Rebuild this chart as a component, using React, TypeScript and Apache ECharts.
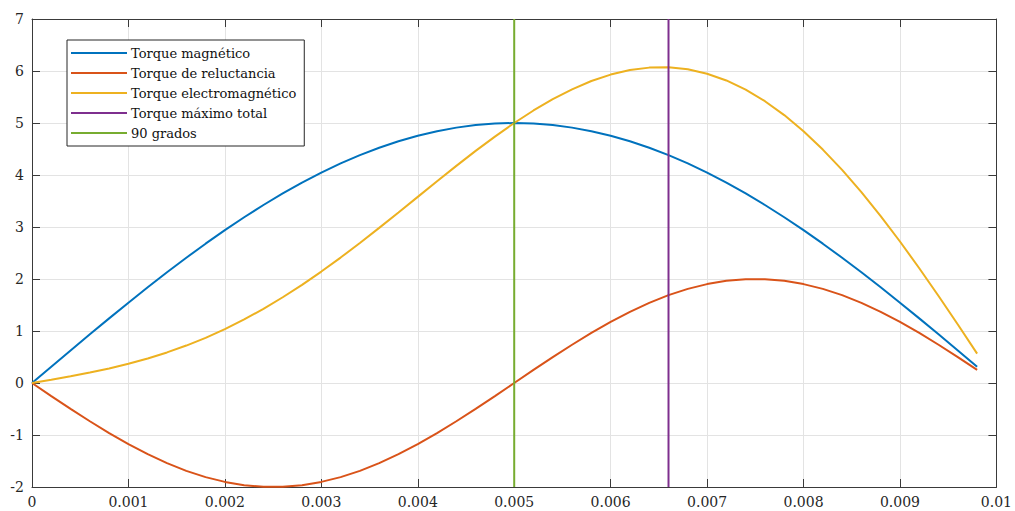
import React, { useEffect, useRef } from "react";
import * as echarts from "echarts";

const time = [
  0, 0.0002, 0.0004, 0.0006, 0.0008, 0.001, 0.0012, 0.0014, 0.0016, 0.0018,
  0.002, 0.0022, 0.0024, 0.0026, 0.0028, 0.003, 0.0032, 0.0034, 0.0036, 0.0038,
  0.004, 0.0042, 0.0044, 0.0046, 0.0048, 0.005, 0.0052, 0.0054, 0.0056, 0.0058,
  0.006, 0.0062, 0.0064, 0.0066, 0.0068, 0.007, 0.0072, 0.0074, 0.0076, 0.0078,
  0.008, 0.0082, 0.0084, 0.0086, 0.0088, 0.009, 0.0092, 0.0094, 0.0096, 0.0098,
];

const torqueMagnetico = [
  0, 0.314, 0.627, 0.937, 1.243, 1.545, 1.841, 2.129, 2.409, 2.679,
  2.939, 3.187, 3.423, 3.645, 3.853, 4.045, 4.222, 4.382, 4.524, 4.649,
  4.755, 4.843, 4.911, 4.961, 4.99, 5.0, 4.99, 4.961, 4.911, 4.843,
  4.755, 4.649, 4.524, 4.382, 4.222, 4.045, 3.853, 3.645, 3.423, 3.187,
  2.939, 2.679, 2.409, 2.129, 1.841, 1.545, 1.243, 0.937, 0.627, 0.314,
];

const torqueReluctancia = [
  0, -0.251, -0.497, -0.736, -0.964, -1.176, -1.369, -1.541, -1.689, -1.81,
  -1.902, -1.965, -1.996, -1.996, -1.965, -1.902, -1.81, -1.689, -1.541, -1.369,
  -1.176, -0.964, -0.736, -0.497, -0.251, 0, 0.251, 0.497, 0.736, 0.964,
  1.176, 1.369, 1.541, 1.689, 1.81, 1.902, 1.965, 1.996, 1.996, 1.965,
  1.902, 1.81, 1.689, 1.541, 1.369, 1.176, 0.964, 0.736, 0.497, 0.251,
];

const torqueElectromagnetico = [
  0, 0.063, 0.13, 0.201, 0.279, 0.369, 0.472, 0.588, 0.72, 0.869,
  1.037, 1.222, 1.427, 1.649, 1.888, 2.143, 2.412, 2.693, 2.983, 3.28,
  3.579, 3.879, 4.175, 4.464, 4.739, 5.0, 5.241, 5.458, 5.647, 5.807,
  5.931, 6.018, 6.065, 6.071, 6.032, 5.947, 5.818, 5.641, 5.419, 5.152,
  4.841, 4.489, 4.098, 3.67, 3.21, 2.721, 2.207, 1.673, 1.124, 0.565,
];

const maxTorqueX = 0.0066;
const ninetyX = 0.005;
const yRange = [-2, 7];

const seriesNames = [
  "Torque magnético",
  "Torque de reluctancia",
  "Torque electromagnético",
  "Torque máximo total",
  "90 grados",
];
const colors = ["#0072BD", "#D95319", "#EDB120", "#7E2F8E", "#77AC30"];

const FONT = "DejaVu Serif";

export default function App() {
  const ref = useRef<HTMLDivElement>(null);
  useEffect(() => {
    if (!ref.current) return;
    const chart = echarts.init(ref.current, undefined, { renderer: "svg" });
    const pair = (xs: number[], ys: number[]) => xs.map((x, i) => [x, ys[i]]);
    const axisColor = "#3a3a3a";
    const fmtX = (v: number) => parseFloat(v.toFixed(4)).toString();
    const baseX = {
      type: "value",
      min: 0,
      max: 0.01,
      interval: 0.001,
      axisLine: { show: true, onZero: false, lineStyle: { color: axisColor, width: 1 } },
      axisTick: { show: true, inside: true, length: 8, lineStyle: { color: axisColor } },
    };
    const baseY = {
      type: "value",
      min: yRange[0],
      max: yRange[1],
      interval: 1,
      axisLine: { show: true, onZero: false, lineStyle: { color: axisColor, width: 1 } },
      axisTick: { show: true, inside: true, length: 8, lineStyle: { color: axisColor } },
    };
    const lineSeries = (name: string, data: number[][], color: string) => ({
      name,
      type: "line",
      data,
      showSymbol: false,
      symbol: "none",
      lineStyle: { color, width: 2 },
      itemStyle: { color },
      silent: true,
    });
    chart.setOption({
      animation: false,
      textStyle: { fontFamily: FONT },
      grid: { left: 32, right: 16, top: 19, bottom: 24, containLabel: false },
      xAxis: [
        {
          ...baseX,
          position: "bottom",
          axisLabel: {
            show: true,
            formatter: fmtX,
            fontFamily: FONT,
            fontSize: 14,
            color: "#262626",
            margin: 8,
          },
          splitLine: { show: true, lineStyle: { color: "#e3e3e3", width: 1 } },
        },
        {
          ...baseX,
          position: "top",
          axisLabel: { show: false },
          splitLine: { show: false },
        },
      ],
      yAxis: [
        {
          ...baseY,
          position: "left",
          axisLabel: {
            show: true,
            fontFamily: FONT,
            fontSize: 14,
            color: "#262626",
            margin: 8,
          },
          splitLine: { show: true, lineStyle: { color: "#e3e3e3", width: 1 } },
        },
        {
          ...baseY,
          position: "right",
          axisLabel: { show: false },
          splitLine: { show: false },
        },
      ],
      legend: {
        show: true,
        orient: "vertical",
        left: 67,
        top: 40,
        data: seriesNames,
        backgroundColor: "#ffffff",
        borderColor: "#262626",
        borderWidth: 1,
        padding: [5, 8, 5, 4],
        itemWidth: 56,
        itemHeight: 2,
        itemGap: 4,
        icon: "rect",
        textStyle: {
          fontFamily: FONT,
          fontSize: 13,
          color: "#111",
          lineHeight: 16,
          padding: [0, 0, 0, -1],
        },
      },
      series: [
        lineSeries(seriesNames[0], pair(time, torqueMagnetico), colors[0]),
        lineSeries(seriesNames[1], pair(time, torqueReluctancia), colors[1]),
        lineSeries(seriesNames[2], pair(time, torqueElectromagnetico), colors[2]),
        lineSeries(seriesNames[3], [[maxTorqueX, yRange[0]], [maxTorqueX, yRange[1]]], colors[3]),
        lineSeries(seriesNames[4], [[ninetyX, yRange[0]], [ninetyX, yRange[1]]], colors[4]),
      ],
    });
    return () => chart.dispose();
  }, []);
  return <div ref={ref} style={{ width: 1015, height: 511, position: "absolute", left: 0, top: 0 }} />;
}
